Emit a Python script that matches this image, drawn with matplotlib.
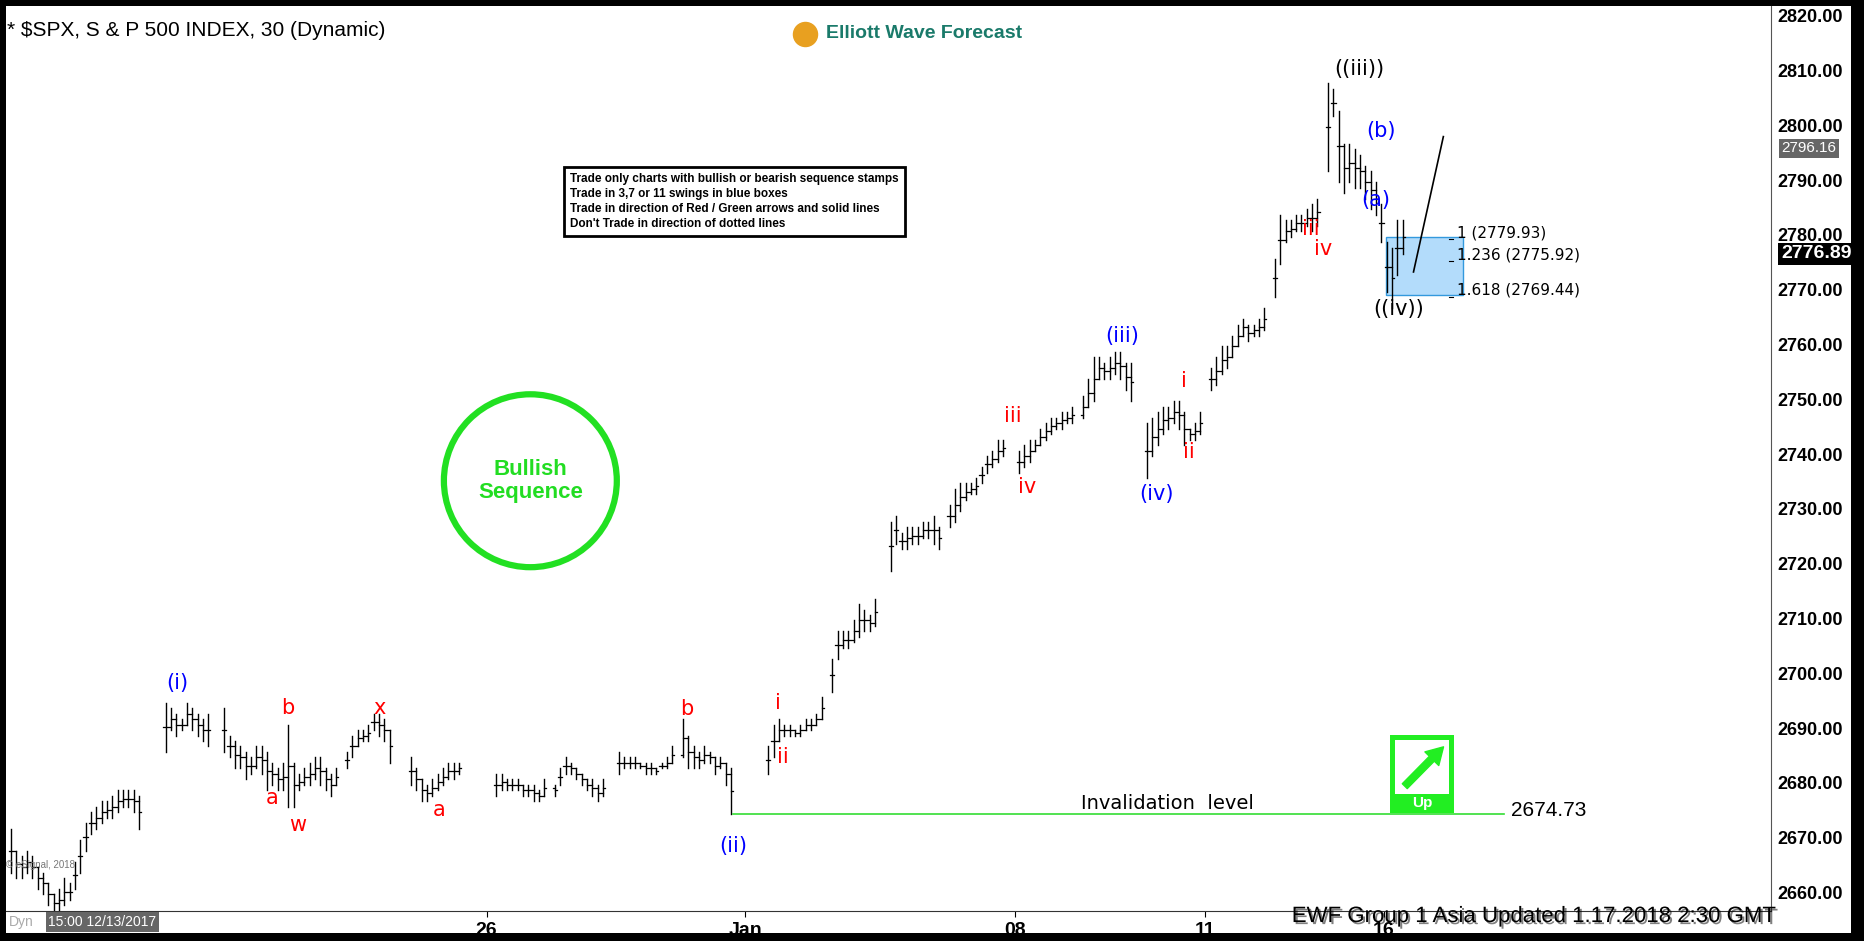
import matplotlib.pyplot as plt
from matplotlib.patches import Rectangle
import matplotlib.patheffects as pe

plt.rcParams['font.family'] = ['Liberation Sans', 'DejaVu Sans']

# bar chunks: (first slot, highs, lows)  one slot = one 30 min bar
chunks = [
    (1, [2672, 2668, 2667, 2668, 2667, 2665, 2664, 2662, 2660, 2661, 2663, 2662, 2666, 2670, 2673, 2675,
         2676, 2677, 2677, 2678, 2679, 2679, 2679, 2679, 2678],
        [2664, 2663, 2663, 2664, 2663, 2661, 2660, 2658, 2657, 2657, 2658, 2659, 2661, 2664, 2668, 2671,
         2672, 2673, 2674, 2674, 2675, 2676, 2676, 2675, 2672]),
    (30, [2695, 2694, 2693, 2692, 2695, 2694, 2693, 2692, 2693],
         [2686, 2690, 2689, 2690, 2691, 2690, 2689, 2688, 2687]),
    (41, [2694, 2689, 2688, 2687, 2686, 2685, 2687, 2687, 2686, 2684],
         [2686, 2685, 2683, 2683, 2681, 2682, 2683, 2682, 2679, 2680]),
    (51, [2683, 2684, 2691, 2684, 2682, 2683, 2684, 2685, 2685, 2683, 2682, 2683],
         [2679, 2679, 2676, 2676, 2679, 2680, 2680, 2681, 2680, 2679, 2678, 2680]),
    (64, [2686, 2689, 2690, 2690, 2691, 2693, 2693, 2692, 2690],
         [2683, 2685, 2687, 2688, 2688, 2690, 2689, 2688, 2684]),
    (76, [2685, 2683, 2681, 2680, 2681, 2682, 2683, 2684, 2684, 2684],
         [2680, 2679, 2677, 2677, 2678, 2679, 2680, 2681, 2681, 2682]),
    (92, [2682, 2682, 2681, 2681, 2681, 2680, 2680, 2680, 2679, 2681],
         [2678, 2679, 2679, 2679, 2679, 2678, 2678, 2677, 2677, 2678]),
    (103, [2680, 2683, 2685, 2684, 2683, 2682, 2681, 2681, 2680, 2681],
          [2678, 2680, 2682, 2682, 2681, 2680, 2679, 2678, 2677, 2678]),
    (115, [2686, 2685, 2685, 2685, 2684, 2684, 2684, 2683, 2684, 2685, 2687],
          [2682, 2683, 2683, 2683, 2683, 2682, 2682, 2682, 2683, 2683, 2684]),
    (127, [2692, 2689, 2687, 2686, 2687, 2686, 2685, 2685, 2684, 2683],
          [2685, 2683, 2683, 2683, 2684, 2684, 2682, 2683, 2680, 2674.73]),
    (143, [2687, 2691, 2692, 2691, 2691, 2690, 2691, 2692, 2692, 2693, 2696],
          [2682, 2685, 2688, 2689, 2689, 2689, 2689, 2690, 2690, 2691, 2692]),
    (155, [2703, 2708, 2708, 2708, 2710, 2713, 2712, 2711, 2714],
          [2697, 2703, 2705, 2705, 2706, 2707, 2708, 2708, 2709]),
    (166, [2728, 2729, 2726, 2727, 2727, 2727, 2728, 2728, 2729, 2727],
          [2719, 2724, 2723, 2723, 2724, 2724, 2725, 2725, 2724, 2723]),
    (177, [2731, 2734, 2735, 2735, 2735, 2736, 2738, 2740, 2741, 2743, 2743],
          [2727, 2728, 2730, 2732, 2733, 2733, 2735, 2737, 2738, 2739, 2740]),
    (190, [2741, 2742, 2743, 2743, 2745, 2746, 2747, 2747, 2748, 2748, 2749],
          [2737, 2738, 2739, 2741, 2742, 2743, 2744, 2745, 2745, 2746, 2746]),
    (202, [2751, 2754, 2758, 2758, 2757, 2758, 2759, 2759, 2757, 2757],
          [2747, 2749, 2750, 2754, 2754, 2754, 2755, 2754, 2752, 2750]),
    (214, [2746, 2747, 2748, 2749, 2749, 2750, 2750, 2748, 2745, 2746, 2748],
          [2736, 2740, 2742, 2744, 2745, 2746, 2745, 2742, 2743, 2743, 2744]),
    (226, [2756, 2758, 2760, 2760, 2762, 2764, 2765, 2764, 2764, 2765, 2767],
          [2752, 2753, 2755, 2756, 2758, 2760, 2762, 2761, 2762, 2762, 2763]),
    (238, [2776, 2784, 2783, 2783, 2784, 2784, 2785, 2786, 2787],
          [2769, 2775, 2779, 2780, 2781, 2781, 2782, 2781, 2782]),
    (248, [2808, 2807, 2803, 2797, 2797, 2796, 2795, 2793, 2792, 2790, 2786, 2779, 2778, 2783, 2783],
          [2792, 2802, 2790, 2788, 2790, 2789, 2789, 2787, 2785, 2784, 2779, 2770, 2767, 2773, 2776.89]),
]

# wave labels: (slot, price, text, color)
labels = [
    (32.2, 2698.6, '(i)', 'blue'), (53, 2694, 'b', 'red'), (50, 2677.6, 'a', 'red'),
    (54.7, 2672.6, 'w', 'red'), (70.2, 2694, 'x', 'red'), (81.3, 2675.4, 'a', 'red'),
    (127.8, 2693.8, 'b', 'red'), (136.4, 2668.9, '(ii)', 'blue'), (144.9, 2694.9, 'i', 'red'),
    (145.8, 2685, 'ii', 'red'), (188.9, 2747.4, 'iii', 'red'), (191.6, 2734.4, 'iv', 'red'),
    (209.3, 2761.9, '(iii)', 'blue'), (215.8, 2733.1, '(iv)', 'blue'), (220.9, 2753.7, 'i', 'red'),
    (221.8, 2740.7, 'ii', 'red'), (244.7, 2781.4, 'iii', 'red'), (247.1, 2777.7, 'iv', 'red'),
    (253.8, 2810.7, '((iii))', 'black'), (258, 2799.4, '(b)', 'blue'), (256.9, 2786.8, '(a)', 'blue'),
    (261.3, 2766.9, '((iv))', 'black'),
]

fib_levels = [2779.93, 2775.92, 2769.44]
fib_names = ['1', '1.236', '1.618']
invalidation = 2674.73
date_slots = [90.2, 138.7, 189.3, 224.9, 258.4]
date_names = ['26', 'Jan', '08', '11', '16']
yticks = list(range(2660, 2821, 10))
rules = ['Trade only charts with bullish or bearish sequence stamps',
         'Trade in 3,7 or 11 swings in blue boxes',
         'Trade in direction of Red / Green arrows and solid lines',
         "Don't Trade in direction of dotted lines"]

fig = plt.figure(figsize=(18.64, 9.41), dpi=100, facecolor='black')
# white panels (price strip and time strip)
fig.add_artist(Rectangle((0.003, 0.009), 0.990, 0.985, transform=fig.transFigure,
                         facecolor='white', edgecolor='none', zorder=0))
ax = fig.add_axes([0.003, 0.032, 0.947, 0.962])
ax.set_xlim(0, 331)
ax.set_ylim(2657.0, 2822.2)

prev_close = None
for start, highs, lows in chunks:
    for k, (h, l) in enumerate(zip(highs, lows)):
        x = start + k
        c = (h + l) / 2
        o = prev_close if prev_close is not None and l <= prev_close <= h else c
        ax.plot([x, x], [l, h], color='black', lw=1.0)
        ax.plot([x - 0.4, x], [o, o], color='black', lw=0.9)
        ax.plot([x, x + 0.4], [c, c], color='black', lw=0.9)
        prev_close = c

for x, y, t, col in labels:
    ax.text(x, y, t, color=col, fontsize=15, ha='center', va='center', family='DejaVu Sans')

# blue box and fib levels
ax.add_patch(Rectangle((258.9, fib_levels[2]), 14.4, fib_levels[0] - fib_levels[2],
                       facecolor='#b3dcfb', edgecolor='#3399dd', lw=1, zorder=1))
for lv, nm in zip(fib_levels, fib_names):
    ax.plot([270.6, 271.4], [lv - 0.4, lv - 0.4], color='black', lw=0.8)
    ax.text(272.2, lv + 0.8, f'{nm} ({lv:.2f})', fontsize=11, va='center', family='DejaVu Sans')
ax.plot([264, 269.6], [2773.6, 2798.3], color='black', lw=1.2)

# invalidation
ax.plot([136.4, 281], [invalidation, invalidation], color='#33dd33', lw=1.2)
ax.text(217.8, 2676.6, 'Invalidation  level', fontsize=14, ha='center', va='center', family='DejaVu Sans')
ax.text(282.2, invalidation + 0.5, f'{invalidation:.2f}', fontsize=15, va='center')

# Up arrow box
ax.add_patch(Rectangle((259.6, 2674.9), 12, 14.2, facecolor='#22ee22', edgecolor='none', zorder=2))
ax.add_patch(Rectangle((260.6, 2678.4), 10, 9.7, facecolor='white', edgecolor='none', zorder=3))
ax.annotate('', xy=(270.0, 2687.3), xytext=(262.0, 2679.4),
            arrowprops=dict(arrowstyle='simple,head_width=1.4,head_length=1.2,tail_width=0.5',
                            color='#22ee22'), zorder=4)
ax.text(265.6, 2676.6, 'Up', color='white', fontsize=11, fontweight='bold', ha='center', va='center', zorder=4)

# bullish sequence circle
ax.scatter([98.4], [2735.5], s=15500, facecolors='none', edgecolors='#22e022', linewidths=4.5)
ax.text(98.4, 2735.5, 'Bullish\nSequence', color='#22dd22', fontsize=16, fontweight='bold',
        ha='center', va='center', linespacing=1.1)

# trading rules box
fig.text(0.306, 0.786, '\n'.join(rules), fontsize=8.5, fontweight='bold', va='center', linespacing=1.35,
         bbox=dict(boxstyle='square,pad=0.5', fc='white', ec='black', lw=2))

ax.set_yticks([])
ax.set_xticks(date_slots)
ax.set_xticklabels(date_names, fontsize=14, fontweight='bold')
ax.tick_params(axis='x', length=4, pad=4)
for s in ['top', 'left']:
    ax.spines[s].set_visible(False)
ax.spines['right'].set_color('#555555')
ax.spines['bottom'].set_color('#333333')

# right price labels
for v in yticks:
    ax.text(1.004, (v - 2657.0) / (2822.2 - 2657.0), f'{v:.2f}', transform=ax.transAxes,
            fontsize=13, fontweight='bold', va='center')
ax.text(1.006, (2796.16 - 2657.0) / 165.2, '2796.16', transform=ax.transAxes, fontsize=11,
        va='center', color='white', bbox=dict(boxstyle='square,pad=0.15', fc='#666666', ec='none'))
ax.text(1.006, (2776.89 - 2657.0) / 165.2, '2776.89', transform=ax.transAxes, fontsize=14,
        fontweight='bold', va='center', color='white',
        bbox=dict(boxstyle='square,pad=0.15', fc='black', ec='none'))

# header / footer texts
fig.text(0.004, 0.968, '* $SPX, S & P 500 INDEX, 30 (Dynamic)', fontsize=15, va='center')
fig.text(0.443, 0.964, 'Elliott Wave Forecast', fontsize=14, fontweight='bold', color='#1a7a6a', va='center')
ax.scatter([0.432], [0.964], s=300, transform=fig.transFigure, color='#e8a020', zorder=5, clip_on=False)
fig.text(0.003, 0.078, '© eSignal, 2018', fontsize=7, color='#777777')
fig.text(0.026, 0.020, '15:00 12/13/2017', fontsize=10, color='white', va='center',
         bbox=dict(boxstyle='square,pad=0.2', fc='#666666', ec='none'))
fig.text(0.005, 0.020, 'Dyn', fontsize=10, color='#aaaaaa', va='center')
fig.text(0.693, 0.026, 'EWF Group 1 Asia Updated 1.17.2018 2:30 GMT', fontsize=16, va='center',
         path_effects=[pe.withSimplePatchShadow(offset=(1.5, -1.5), alpha=0.5)])

fig.savefig('out.png', dpi=100, facecolor='black')
